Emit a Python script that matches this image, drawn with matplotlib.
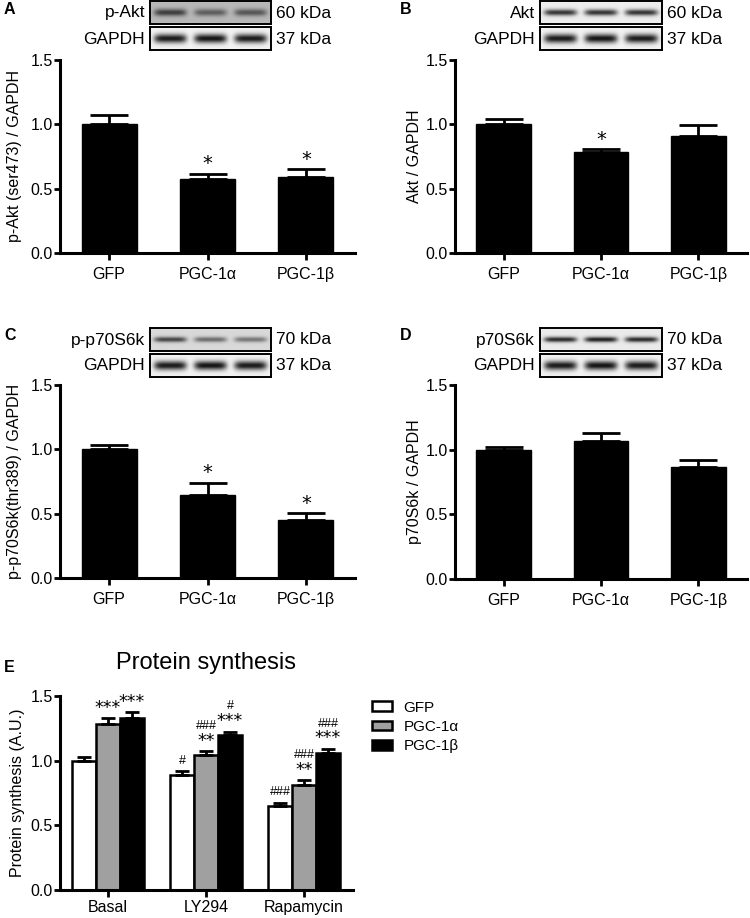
import numpy as np
import matplotlib
matplotlib.use('Agg')
import matplotlib.pyplot as plt

plt.rcParams['font.family'] = ['Liberation Sans', 'DejaVu Sans']

groups = ['GFP', 'PGC-1α', 'PGC-1β']

# panel A : p-Akt
pakt_mean = [1.0, 0.572, 0.588]
pakt_sem = [0.07, 0.045, 0.067]
pakt_sig = ['', '*', '*']
# panel B : Akt
akt_mean = [1.0, 0.782, 0.913]
akt_sem = [0.04, 0.025, 0.08]
akt_sig = ['', '*', '']
# panel C : p-p70S6k
pp70_mean = [1.0, 0.642, 0.448]
pp70_sem = [0.033, 0.10, 0.058]
pp70_sig = ['', '*', '*']
# panel D : p70S6k
p70_mean = [1.0, 1.067, 0.869]
p70_sem = [0.023, 0.06, 0.048]
p70_sig = ['', '', '']

# panel E : protein synthesis
conditions = ['Basal', 'LY294', 'Rapamycin']
ps_gfp = [1.0, 0.886, 0.646]
ps_gfp_sem = [0.025, 0.035, 0.03]
ps_alpha = [1.282, 1.046, 0.808]
ps_alpha_sem = [0.045, 0.028, 0.042]
ps_beta = [1.33, 1.2, 1.062]
ps_beta_sem = [0.045, 0.025, 0.03]
ps_gfp_sig = [[], ['#'], ['###']]
ps_alpha_sig = [['***'], ['**', '###'], ['**', '###']]
ps_beta_sig = [['***'], ['***', '#'], ['***', '###']]

# blot band strengths per lane (GFP, PGC-1a, PGC-1b)
blot_pakt = [0.75, 0.55, 0.6]
blot_akt = [0.85, 0.85, 0.85]
blot_pp70 = [0.75, 0.55, 0.5]
blot_p70 = [0.9, 0.95, 0.9]
blot_gapdh = [0.97, 1.0, 0.97]

W, H = 750., 918.
fig = plt.figure(figsize=(7.5, 9.18), dpi=100)


def px(x0, y0, x1, y1):
    return [x0 / W, 1 - y1 / H, (x1 - x0) / W, (y1 - y0) / H]


def style_axes(ax, ylabel, pad, xpad=5):
    for s in ['top', 'right']:
        ax.spines[s].set_visible(False)
    for s in ['left', 'bottom']:
        ax.spines[s].set_linewidth(2.2)
    ax.set_ylim(0, 1.5)
    ax.set_yticks([0, 0.5, 1.0, 1.5])
    ax.set_yticklabels(['0.0', '0.5', '1.0', '1.5'])
    ax.tick_params(axis='y', length=4, width=2, labelsize=11.5, pad=1)
    ax.tick_params(axis='x', length=5, width=2, labelsize=11.5, pad=xpad)
    ax.set_ylabel(ylabel, fontsize=11.5, labelpad=pad)


def plot_bars(rect, means, sems, sig, ylabel, pad):
    ax = fig.add_axes(px(*rect))
    x = np.arange(len(groups))
    ax.bar(x, means, width=0.56, color='k', edgecolor='k')
    ax.errorbar(x, means, yerr=[np.zeros(len(x)), sems], fmt='none',
                ecolor='k', elinewidth=2, capsize=14, capthick=2)
    for i in range(len(x)):
        if sig[i]:
            ax.text(x[i], means[i] + sems[i] + 0.075, sig[i], ha='center',
                    va='center', fontsize=14, family='DejaVu Sans')
    ax.set_xlim(-0.5, 2.5)
    ax.set_xticks(x)
    ax.set_xticklabels(groups)
    style_axes(ax, ylabel, pad)
    return ax


def draw_blot(rect, bands, bg, thick):
    ax = fig.add_axes(px(*rect))
    yy, xx = np.mgrid[0:1:40j, 0:1:200j]
    img = np.zeros_like(xx)
    for i, b in enumerate(bands):
        c = (2 * i + 1) / 6.
        lane = np.exp(-((xx - c) / 0.135) ** 6)
        img += b * lane * np.exp(-((yy - 0.5) / thick) ** 2)
    img = np.clip(img, 0, 1)
    ax.imshow(bg - (bg - 0.08) * img, cmap='gray', vmin=0, vmax=1,
              aspect='auto', interpolation='bilinear')
    ax.set_xticks([])
    ax.set_yticks([])
    for s in ax.spines.values():
        s.set_linewidth(1.4)


def blot_pair(x0, x1, y0, name, kda, bands, bg, thick):
    draw_blot((x0, y0, x1, y0 + 23), bands, bg, thick)
    draw_blot((x0, y0 + 26, x1, y0 + 49), blot_gapdh, 0.95, 0.2)
    fig.text((x0 - 5) / W, 1 - (y0 + 12) / H, name, ha='right', va='center', fontsize=12.5)
    fig.text((x1 + 5) / W, 1 - (y0 + 12) / H, kda, ha='left', va='center', fontsize=12.5)
    fig.text((x0 - 5) / W, 1 - (y0 + 38) / H, 'GAPDH', ha='right', va='center', fontsize=12.5)
    fig.text((x1 + 5) / W, 1 - (y0 + 38) / H, '37 kDa', ha='left', va='center', fontsize=12.5)


# top four panels
plot_bars((60, 60, 355, 253), pakt_mean, pakt_sem, pakt_sig, 'p-Akt (ser473) / GAPDH', 6)
plot_bars((455, 60, 747, 253), akt_mean, akt_sem, akt_sig, 'Akt / GAPDH', 3)
plot_bars((60, 385, 355, 578), pp70_mean, pp70_sem, pp70_sig, 'p-p70S6k(thr389) / GAPDH', 6)
plot_bars((455, 385, 747, 579), p70_mean, p70_sem, p70_sig, 'p70S6k / GAPDH', 3)

blot_pair(150, 271, 1, 'p-Akt', '60 kDa', blot_pakt, 0.72, 0.16)
blot_pair(540, 662, 1, 'Akt', '60 kDa', blot_akt, 0.93, 0.14)
blot_pair(150, 271, 328, 'p-p70S6k', '70 kDa', blot_pp70, 0.85, 0.12)
blot_pair(540, 662, 328, 'p70S6k', '70 kDa', blot_p70, 0.92, 0.12)

for lab, xp, yp in [('A', 4, 10), ('B', 400, 10), ('C', 4, 336), ('D', 400, 336), ('E', 4, 668)]:
    fig.text(xp / W, 1 - yp / H, lab, ha='left', va='center', fontsize=11.5, fontweight='bold')

# panel E
ax = fig.add_axes(px(60, 696, 353, 890))
x = np.arange(len(conditions))
bw = 0.245
series = [('GFP', ps_gfp, ps_gfp_sem, ps_gfp_sig, 'white'),
          ('PGC-1α', ps_alpha, ps_alpha_sem, ps_alpha_sig, '#a0a0a0'),
          ('PGC-1β', ps_beta, ps_beta_sem, ps_beta_sig, 'black')]
for k, (name, m, e, sg, col) in enumerate(series):
    xs = x + (k - 1) * bw
    ax.bar(xs, m, width=bw, color=col, edgecolor='k', linewidth=1.8, label=name)
    ax.errorbar(xs, m, yerr=[np.zeros(len(xs)), e], fmt='none', ecolor='k',
                elinewidth=2, capsize=5, capthick=2)
    for i in range(len(xs)):
        for j, s in enumerate(sg[i]):
            yv = m[i] + e[i] + 0.08 + 0.115 * j
            if s.startswith('#'):
                ax.text(xs[i], yv, s, ha='center', va='center', fontsize=9,
                        clip_on=False)
            else:
                ax.text(xs[i], yv, s, ha='center', va='center', fontsize=12.5,
                        family='DejaVu Sans', clip_on=False)
ax.set_xlim(-0.49, 2.5)
ax.set_xticks(x)
ax.set_xticklabels(conditions)
style_axes(ax, 'Protein synthesis (A.U.)', 4, xpad=2)
ax.text(0.5, 1.17, 'Protein synthesis', transform=ax.transAxes, ha='center',
        va='center', fontsize=17)
ax.legend(loc='upper left', bbox_to_anchor=(364 / W, 1 - 693 / H),
          bbox_transform=fig.transFigure, frameon=False, fontsize=11,
          handlelength=1.3, handleheight=0.6, borderpad=0, labelspacing=0.35,
          handletextpad=0.8)

fig.savefig('out.png', dpi=100)
